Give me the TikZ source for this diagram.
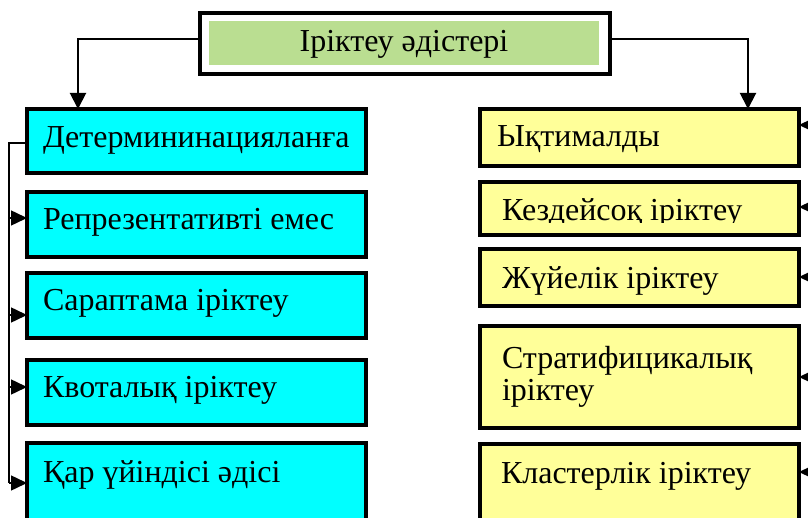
\documentclass[tikz,border=0pt]{standalone}
\usepackage{fontspec}
\setmainfont{Liberation Serif}
\usetikzlibrary{arrows.meta}
\definecolor{boxcyan}{RGB}{0,255,255}
\definecolor{boxyellow}{RGB}{255,255,153}
\definecolor{titlegreen}{RGB}{186,222,145}
\begin{document}
\begin{tikzpicture}[x=1pt,y=-1pt,
  cbox/.style={draw=black,line width=4pt,fill=boxcyan,rectangle,inner sep=0pt,outer sep=0pt,anchor=north west,minimum width=339pt},
  ybox/.style={draw=black,line width=4pt,fill=boxyellow,rectangle,inner sep=0pt,outer sep=0pt,anchor=north west,minimum width=319pt},
  lbl/.style={anchor=base west,inner sep=0pt,outer sep=0pt,font=\fontsize{32}{32}\selectfont,align=left},
  bigarr/.style={line width=2pt,-{Triangle[length=16pt,width=16pt]}},
  smallarr/.style={line width=1.5pt,-{Triangle[length=16pt,width=15pt]}},
  bracket/.style={line width=1.5pt}]
\clip (0,0) rectangle (808,518);
\fill[white] (0,0) rectangle (808,518);
% title
\node[draw=black,line width=4pt,rectangle,inner sep=0pt,outer sep=0pt,anchor=north west,minimum width=410pt,minimum height=61pt] (title) at (200,13) {};
\node[fill=titlegreen,rectangle,inner sep=0pt,outer sep=0pt,anchor=north west,minimum width=390pt,minimum height=44pt] (titlebg) at (209,21) {};
\node[lbl,anchor=base] (titletext) at (404,52) {Іріктеу әдістері};
% left boxes
\node[cbox,minimum height=64pt] (L1) at (27,109) {};
\node[cbox,minimum height=65pt] (L2) at (27,192) {};
\node[cbox,minimum height=65pt] (L3) at (27,273) {};
\node[cbox,minimum height=65pt] (L4) at (27,360) {};
\node[cbox,minimum height=90pt] (L5) at (27,443) {};
\node[lbl] (t1) at (43,148) {Детермининацияланға};
\node[lbl] (t2) at (43,230) {Репрезентативті емес};
\node[lbl] (t3) at (43,311) {Сараптама іріктеу};
\node[lbl] (t4) at (43,397) {Квоталық іріктеу};
\node[lbl] (t5) at (43,482) {Қар үйіндісі әдісі};
% right boxes
\node[ybox,minimum height=57pt] (R1) at (480,109) {};
\node[ybox,minimum height=53pt] (R2) at (480,182) {};
\node[ybox,minimum height=57pt] (R3) at (480,249) {};
\node[ybox,minimum height=102pt] (R4) at (480,326) {};
\node[ybox,minimum height=90pt] (R5) at (480,444) {};
\node[lbl] (u1) at (497,147) {Ықтималды};
\begin{scope}
\clip (480,182) rectangle (799,223);
\node[lbl] (u2) at (502,221) {Кездейсоқ іріктеу};
\end{scope}
\node[lbl] (u3) at (502,289) {Жүйелік іріктеу};
\node[lbl] (u4) at (502,400) {Стратифицикалық\\іріктеу};
\node[lbl] (u5) at (501,483) {Кластерлік іріктеу};
% connectors from title
\draw[bigarr] (title.west |- 0,39) -| (L1.north west -| 78,0);
\draw[bigarr] (title.east |- 0,39) -| (R1.north west -| 748,0);
% left bracket
\draw[bracket] (L1.west |- 0,143) -| (9,483);
\draw[smallarr] (9,218) -- (L2.west |- 0,218);
\draw[smallarr] (9,315) -- (L3.west |- 0,315);
\draw[smallarr] (9,387) -- (L4.west |- 0,387);
\draw[smallarr] (9,483) -- (L5.west |- 0,483);
% right arrows
\draw[smallarr] (830,125) -- (R1.east |- 0,125);
\draw[smallarr] (830,207) -- (R2.east |- 0,207);
\draw[smallarr] (830,277) -- (R3.east |- 0,277);
\draw[smallarr] (830,377) -- (R4.east |- 0,377);
\draw[smallarr] (830,472) -- (R5.east |- 0,472);
\end{tikzpicture}
\end{document}
